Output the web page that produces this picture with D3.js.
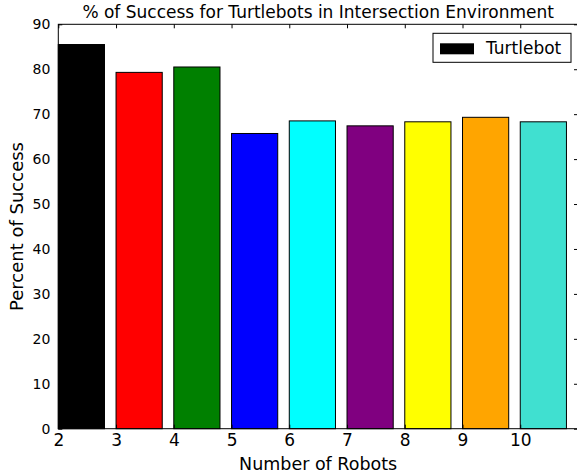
<!DOCTYPE html>
<html lang="en">
<head>
<meta charset="utf-8">
<title>Turtlebot success</title>
<script src="https://d3js.org/d3.v7.min.js"></script>
<style>
  body { margin: 0; background: #fff; }
  text { font-family: "DejaVu Sans", sans-serif; fill: #000; }
</style>
</head>
<body>
<svg width="577" height="475" id="mainsvg"></svg>
<script>
    const robots = [2, 3, 4, 5, 6, 7, 8, 9, 10];
    const success = [85.5, 79.3, 80.5, 65.7, 68.5, 67.4, 68.3, 69.3, 68.3];
    const barColors = ['black', 'red', 'green', 'blue', 'cyan', 'purple', 'yellow', 'orange', 'turquoise'];
    const yTicks = [0, 10, 20, 30, 40, 50, 60, 70, 80, 90];
    const legendLabel = 'Turtlebot';

    const svg = d3.select('#mainsvg');
    const margin = { top: 24.3, right: -1, bottom: 46.3, left: 58.3 };
    const width = +svg.attr('width');
    const height = +svg.attr('height');
    const innerWidth = width - margin.left - margin.right;
    const innerHeight = height - margin.top - margin.bottom;

    const xScale = d3.scaleLinear().domain([2, 11]).range([0, innerWidth]);
    const yScale = d3.scaleLinear().domain([0, 90]).range([innerHeight, 0]);

    const g = svg.append('g')
        .attr('transform', `translate(${margin.left}, ${margin.top})`);

    // bars, left-aligned at each x, width 0.8
    g.selectAll('.bar').data(robots).enter().append('rect')
        .attr('class', 'bar')
        .attr('x', d => xScale(d))
        .attr('y', (d, i) => yScale(success[i]))
        .attr('width', xScale(2.8) - xScale(2))
        .attr('height', (d, i) => yScale(0) - yScale(success[i]))
        .attr('fill', (d, i) => barColors[i])
        .attr('stroke', '#000')
        .attr('stroke-width', 1);

    // axes: ticks inside on all four sides
    const xAxis = d3.axisBottom(xScale).tickValues(robots).tickSize(-4).tickPadding(5).tickFormat(d3.format('d'));
    const xTop = d3.axisTop(xScale).tickValues(robots).tickSize(-4).tickFormat('');
    const yAxis = d3.axisLeft(yScale).tickValues(yTicks).tickSize(-4).tickPadding(8);
    const yRight = d3.axisRight(yScale).tickValues(yTicks).tickSize(-4).tickFormat('');

    const xg = g.append('g').attr('transform', `translate(0, ${innerHeight})`).call(xAxis);
    g.append('g').call(xTop);
    const yg = g.append('g').call(yAxis);
    g.append('g').attr('transform', `translate(${innerWidth}, 0)`).call(yRight);

    g.selectAll('.domain').remove();
    g.selectAll('.tick line').attr('stroke', '#000');
    xg.selectAll('.tick text').attr('font-size', '17px').attr('dy', '0.75em');
    yg.selectAll('.tick text').attr('font-size', '14px');

    g.append('rect')
        .attr('width', innerWidth).attr('height', innerHeight)
        .attr('fill', 'none').attr('stroke', '#000').attr('stroke-width', 1);

    // labels
    g.append('text')
        .attr('x', innerWidth / 2).attr('y', -6)
        .attr('text-anchor', 'middle').attr('font-size', '17px')
        .text('% of Success for Turtlebots in Intersection Environment');
    g.append('text')
        .attr('x', innerWidth / 2).attr('y', innerHeight + 41)
        .attr('text-anchor', 'middle').attr('font-size', '17.5px')
        .text('Number of Robots');
    g.append('text')
        .attr('transform', `translate(-35, ${innerHeight / 2}) rotate(-90)`)
        .attr('text-anchor', 'middle').attr('font-size', '18px')
        .text('Percent of Success');

    // legend
    const lg = g.append('g').attr('transform', `translate(${innerWidth - 145}, 9)`);
    lg.append('rect').attr('width', 138).attr('height', 29)
        .attr('fill', '#fff').attr('stroke', '#000').attr('stroke-width', 1);
    lg.append('rect').attr('x', 7).attr('y', 10).attr('width', 34).attr('height', 11)
        .attr('fill', barColors[0]);
    lg.append('text').attr('x', 53).attr('y', 20.5)
        .attr('font-size', '17px').text(legendLabel);
</script>
</body>
</html>
